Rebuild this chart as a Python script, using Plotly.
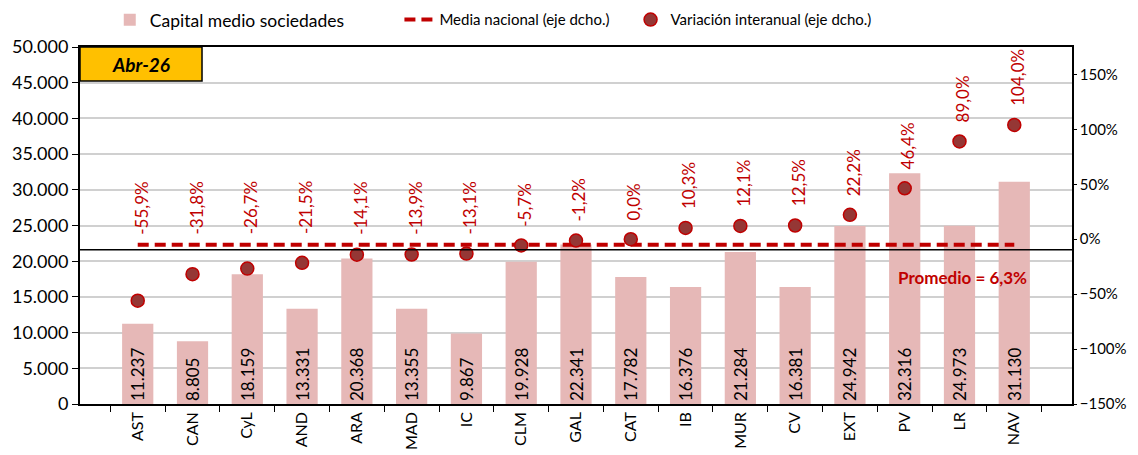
import plotly.graph_objects as go

categories = ["AST", "CAN", "CyL", "AND", "ARA", "MAD", "IC", "CLM", "GAL", "CAT",
              "IB", "MUR", "CV", "EXT", "PV", "LR", "NAV"]
capital = [11237, 8805, 18159, 13331, 20368, 13355, 9867, 19928, 22341, 17782,
           16376, 21284, 16381, 24942, 32316, 24973, 31130]
variacion = [-55.9, -31.8, -26.7, -21.5, -14.1, -13.9, -13.1, -5.7, -1.2, 0.0,
             10.3, 12.1, 12.5, 22.2, 46.4, 89.0, 104.0]
media_nacional = [-5.0] * len(categories)
promedio_text = "Promedio = 6,3%"
periodo = "Abr-26"

FONT = "Lato"
RED = "#C00000"

fig = go.Figure()
fig.add_trace(go.Bar(
    x=categories, y=capital, name="Capital medio sociedades",
    marker=dict(color="#E6B8B7", line=dict(width=0)),
    width=0.57, legend="legend",
    texttemplate="%{y:,d}", textposition="inside", insidetextanchor="start",
    textangle=-90, constraintext="none",
    textfont=dict(family=FONT, size=17, color="black"),
))
fig.add_trace(go.Scatter(
    x=categories, y=media_nacional, name="Media nacional (eje dcho.)",
    yaxis="y2", mode="lines", legend="legend2",
    line=dict(color=RED, width=4, dash="11px,6px"),
))
fig.add_trace(go.Scatter(
    x=categories, y=variacion, name="Variación interanual (eje dcho.)",
    yaxis="y2", mode="markers", legend="legend3",
    marker=dict(size=13, color="#953735", line=dict(color=RED, width=1.5)),
))

annotations = []
for c, v in zip(categories, variacion):
    annotations.append(dict(
        x=c, y=max(v, -13.0), xref="x", yref="y2",
        text=f"{v:.1f}".replace(".", ",") + "%",
        textangle=-90, showarrow=False, yanchor="bottom", xanchor="center",
        yshift=17, xshift=3,
        font=dict(family=FONT, size=17, color=RED),
    ))
annotations.append(dict(
    x=0.89, y=0.353, xref="paper", yref="paper", text=f"<b>{promedio_text}</b>",
    xanchor="center", yanchor="middle",
    showarrow=False, font=dict(family=FONT, size=17, color=RED),
))
annotations.append(dict(
    x=0.0615, y=0.952, xref="paper", yref="paper", text=f"<b><i>{periodo}</i></b>",
    xanchor="center", yanchor="middle",
    showarrow=False, font=dict(family=FONT, size=19, color="black"),
))

shapes = [
    dict(type="rect", xref="paper", yref="paper", x0=0, x1=0.123, y0=0.905, y1=1.0,
         fillcolor="#FFC000", line=dict(color="black", width=1.5), layer="above"),
    dict(type="line", xref="paper", yref="y2", x0=0, x1=1, y0=-9.5, y1=-9.5,
         line=dict(color="black", width=1.5), layer="above"),
]

legend_common = dict(orientation="h", xanchor="left", y=1.076, yanchor="middle",
                     bgcolor="rgba(0,0,0,0)")

# page body has an 8px margin, so the figure is sized/placed to compensate
fig.update_layout(
    width=1122, height=447,
    margin=dict(l=72, r=58, t=39, b=51, autoexpand=False),
    paper_bgcolor="white", plot_bgcolor="white",
    separators=",.",
    font=dict(family=FONT, size=17, color="black"),
    bargap=0.43,
    showlegend=True,
    legend=dict(x=0.03, font=dict(family=FONT, size=17.5), **legend_common),
    legend2=dict(x=0.322, font=dict(family=FONT, size=15), **legend_common),
    legend3=dict(x=0.555, font=dict(family=FONT, size=15), **legend_common),
    xaxis=dict(type="category", tickangle=-90, ticks="outside", tickson="boundaries",
               ticklen=6, tickcolor="black", showline=True, linecolor="black",
               linewidth=1.5, mirror=True, showgrid=False, automargin=False,
               tickfont=dict(family=FONT, size=16)),
    yaxis=dict(range=[0, 50000], dtick=5000, tickformat=",d", ticks="outside",
               ticklen=6, tickcolor="black", showline=True, linecolor="black",
               linewidth=2, showgrid=True, gridcolor="#D0D0D0", gridwidth=1.5,
               zeroline=False, automargin=False, tickfont=dict(family=FONT, size=18)),
    yaxis2=dict(range=[-150, 175], tick0=-150, dtick=50, ticksuffix="%",
                overlaying="y", side="right", ticks="outside", ticklen=3,
                tickcolor="black", showline=True, linecolor="black", linewidth=1.5,
                showgrid=False, zeroline=False, automargin=False,
                tickfont=dict(family=FONT, size=15)),
    annotations=annotations,
    shapes=shapes,
)

fig.write_html("out.html")
